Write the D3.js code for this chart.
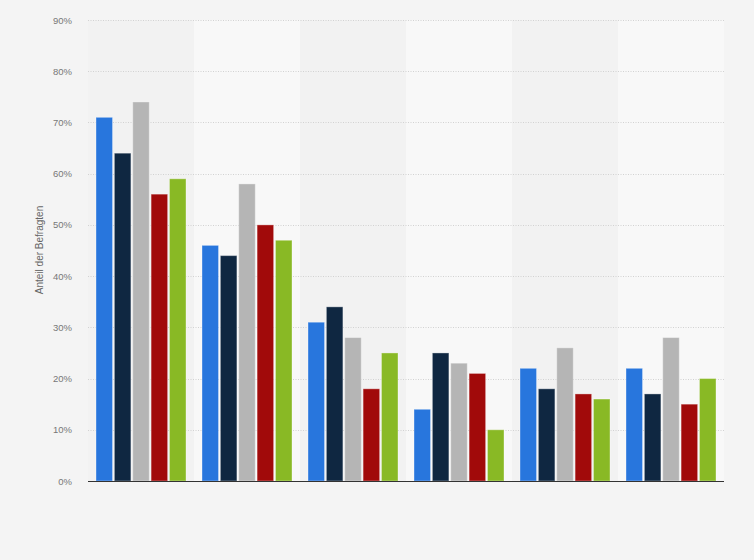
<!DOCTYPE html>
<html>
<head>
<meta charset="utf-8">
<script src="https://cdn.jsdelivr.net/npm/d3@7"></script>
<style>
  body { margin: 0; background: #f4f4f4; }
  svg { display: block; font-family: "Liberation Sans", Arial, sans-serif; }
</style>
</head>
<body>
<div id="chart"></div>
<script>
// Data (percent of respondents)
var categories = ["A", "B", "C", "D", "E", "F"];
var seriesNames = ["Serie 1", "Serie 2", "Serie 3", "Serie 4", "Serie 5"];
var serie1 = [71, 46, 31, 14, 22, 22];
var serie2 = [64, 44, 34, 25, 18, 17];
var serie3 = [74, 58, 28, 23, 26, 28];
var serie4 = [56, 50, 18, 21, 17, 15];
var serie5 = [59, 47, 25, 10, 16, 20];
var yTicks = [0, 10, 20, 30, 40, 50, 60, 70, 80, 90];
var colors = ["#2876dd", "#0f2741", "#b5b5b5", "#a10a0a", "#89b925"];

var allSeries = [serie1, serie2, serie3, serie4, serie5];

var W = 754, H = 560;
var margin = { top: 20, right: 30, bottom: 79, left: 88 };
var width = W - margin.left - margin.right,
    height = H - margin.top - margin.bottom;

var svg = d3.select("#chart")
    .append("svg")
    .attr("width", W)
    .attr("height", H);

svg.append("rect")
    .attr("width", W).attr("height", H)
    .attr("fill", "#f4f4f4");

var g = svg.append("g")
    .attr("transform", "translate(" + margin.left + "," + margin.top + ")");

var x0 = d3.scaleBand()
    .domain(categories)
    .range([0, width])
    .paddingInner(0)
    .paddingOuter(0);

var x1 = d3.scaleBand()
    .domain(seriesNames)
    .range([8, x0.bandwidth() - 8])
    .paddingInner(0.1);

var y = d3.scaleLinear()
    .domain([0, 90])
    .range([height, 0]);

// plot background and alternating bands
g.selectAll(".band")
    .data(categories)
    .enter()
    .append("rect")
    .attr("x", function (d) { return x0(d); })
    .attr("y", 0)
    .attr("width", x0.bandwidth())
    .attr("height", height)
    .attr("fill", function (d, i) { return i % 2 == 1 ? "#f8f8f8" : "#f2f2f2"; });

// gridlines
g.selectAll(".grid")
    .data(yTicks.filter(function (t) { return t > 0; }))
    .enter()
    .append("line")
    .attr("x1", 0).attr("x2", width)
    .attr("y1", function (d) { return Math.round(y(d)) + 0.5; })
    .attr("y2", function (d) { return Math.round(y(d)) + 0.5; })
    .attr("stroke", "#d2d2d2")
    .attr("stroke-dasharray", "1,1.5");

// y axis labels
var yAxis = g.append("g")
    .call(d3.axisLeft(y).tickValues(yTicks).tickSize(0).tickPadding(16)
        .tickFormat(function (d) { return d + "%"; }));
yAxis.select(".domain").remove();
yAxis.selectAll("text")
    .attr("fill", "#777")
    .style("font-size", "9.5px");

// bars
var groups = g.selectAll(".group")
    .data(categories)
    .enter()
    .append("g")
    .attr("transform", function (d) { return "translate(" + x0(d) + ",0)"; });

groups.selectAll("rect")
    .data(function (d, i) {
        return seriesNames.map(function (s, k) { return { name: s, k: k, value: allSeries[k][i] }; });
    })
    .enter()
    .append("rect")
    .attr("x", function (d) { return x1(d.name); })
    .attr("y", function (d) { return y(d.value); })
    .attr("width", x1.bandwidth())
    .attr("height", function (d) { return height - y(d.value); })
    .attr("fill", function (d) { return colors[d.k]; })
    .attr("stroke", "rgba(255,255,255,0.35)")
    .attr("stroke-width", 1);

// x axis line
g.append("line")
    .attr("x1", 0).attr("x2", width)
    .attr("y1", height + 0.5).attr("y2", height + 0.5)
    .attr("stroke", "#333")
    .attr("stroke-width", 1);

// y axis title
svg.append("text")
    .attr("transform", "translate(43,250) rotate(-90)")
    .attr("text-anchor", "middle")
    .attr("fill", "#666")
    .style("font-size", "10px")
    .text("Anteil der Befragten");
</script>
</body>
</html>
